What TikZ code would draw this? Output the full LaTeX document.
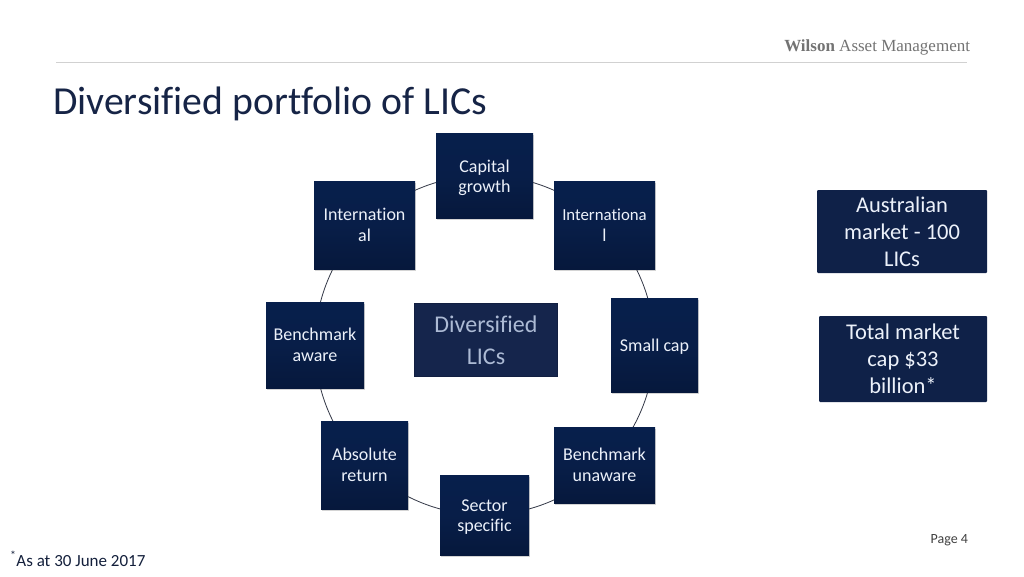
\documentclass[tikz,border=0pt]{standalone}
\usepackage{fontspec}
\setmainfont[Ligatures=NoCommon]{Carlito}
\newfontfamily\logofont{Liberation Serif}
\usetikzlibrary{shadows,backgrounds}
\definecolor{navytop}{RGB}{7,31,76}
\definecolor{navymid}{RGB}{8,30,72}
\definecolor{navybot}{RGB}{6,24,60}
\definecolor{flatnavy}{RGB}{15,33,72}
\definecolor{centrenavy}{RGB}{21,37,76}
\definecolor{titleblue}{RGB}{22,36,70}
\definecolor{arccol}{RGB}{50,55,70}
\definecolor{boxtext}{RGB}{236,241,250}
\definecolor{centretext}{RGB}{172,186,212}
\tikzset{
  x=1pt,y=-1pt,
  cyclebox/.style={rectangle,inner sep=0pt,align=center,text=boxtext,
    top color=navytop,bottom color=navybot,middle color=navymid,
    drop shadow={shadow xshift=0.5pt,shadow yshift=-2pt,opacity=.28,fill=black!60},
    font=\fontsize{18}{20.5}\selectfont},
  sidebox/.style={rectangle,inner sep=0pt,align=center,text=boxtext,fill=flatnavy,
    rounded corners=1pt,font=\fontsize{22.5}{27.2}\selectfont},
  arcline/.style={draw=arccol,line width=0.8pt,bend left=22.5,looseness=0.885},
  plain/.style={inner sep=0pt,outer sep=0pt}
}
\begin{document}
\begin{tikzpicture}
\useasboundingbox (0,0) rectangle (1024,576);
\coordinate (ruleL) at (56,62.5);
\coordinate (ruleR) at (967,62.5);
\draw[black!18,line width=0.8pt] (ruleL) -- (ruleR);
\node[plain,anchor=base east,text=black!55] (logo) at (970,51)
  {\logofont\fontsize{17}{20}\selectfont\textbf{Wilson} Asset Management};
\node[plain,anchor=base west,text=titleblue] (title) at (53,114)
  {\fontsize{39.7}{42}\selectfont Diversified portfolio of LICs};

\node[cyclebox,minimum width=97pt,minimum height=85pt] (cap) at (484.5,175.5) {\rule{0pt}{17pt}Capital\\growth};
\node[cyclebox,minimum width=101pt,minimum height=88pt] (intr) at (604.5,225) {\fontsize{16.8}{19}\selectfont Internationa\\l};
\node[cyclebox,minimum width=87pt,minimum height=94pt] (small) at (654.5,345) {\rule{0pt}{15.5pt}Small cap};
\node[cyclebox,minimum width=101pt,minimum height=76pt] (unaw) at (604.5,465) {Benchmark\\unaware};
\node[cyclebox,minimum width=89pt,minimum height=80pt] (sect) at (484.5,515) {\rule{0pt}{15.5pt}Sector\\specific};
\node[cyclebox,minimum width=87pt,minimum height=88pt] (abs) at (364.5,465) {Absolute\\return};
\node[cyclebox,minimum width=98pt,minimum height=86pt] (aware) at (315,345) {Benchmark\\aware};
\node[cyclebox,minimum width=101pt,minimum height=88pt] (intl) at (364.5,225) {Internation\\al};

\node[rectangle,inner sep=0pt,align=center,text=centretext,fill=centrenavy,
  draw=centrenavy!85!black,line width=0.8pt,minimum width=143pt,minimum height=73pt,
  font=\fontsize{24}{32}\selectfont] (centre) at (486,340) {Diversified\\LICs};

\begin{scope}[on background layer]
\path[arcline] (cap.center) edge (intr.center) (intr.center) edge (small.center)
  (small.center) edge (unaw.center) (unaw.center) edge (sect.center)
  (sect.center) edge (abs.center) (abs.center) edge (aware.center)
  (aware.center) edge (intl.center) (intl.center) edge (cap.center);
\end{scope}

\node[sidebox,minimum width=170pt,minimum height=83pt] (aus) at (902,231.5) {Australian\\market - 100\\LICs};
\node[sidebox,minimum width=168pt,minimum height=86pt] (tot) at (903,359) {Total market\\cap \$33\\billion*};

\node[plain,anchor=base east,text=black!75] (page) at (968,543)
  {\fontsize{14}{16}\selectfont Page 4};
\node[plain,anchor=base west,text=titleblue!85!black] (note) at (10,566)
  {\fontsize{17}{20}\selectfont\textsuperscript{*}As at 30 June 2017};
\end{tikzpicture}
\end{document}
